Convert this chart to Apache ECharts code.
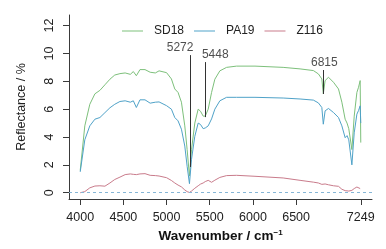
<!DOCTYPE html>
<html>
<head>
<meta charset="utf-8">
<script src="https://cdn.jsdelivr.net/npm/echarts@6/dist/echarts.min.js"></script>
<style>
    html, body { margin: 0; padding: 0; background: #fff; }
    #chart { width: 386px; height: 249px; }
</style>
</head>
<body>
<div id="chart"></div>
<script>
// wavenumber (cm-1) sample points shared by the three spectra
var wavenumbers = [4000, 4053, 4111, 4170, 4228, 4286, 4344, 4400, 4460, 4520,
    4580, 4615, 4650, 4692, 4750, 4810, 4870, 4913, 5000, 5056,
    5095, 5133, 5172, 5211, 5238, 5265, 5289, 5327, 5366, 5393,
    5424, 5448, 5482, 5521, 5559, 5617, 5695, 5811, 6024, 6350,
    6546, 6700, 6758, 6798, 6815, 6836, 6875, 6933, 6991, 7030,
    7068, 7090, 7110, 7146, 7173, 7204, 7223, 7242, 7249];

var sd18 = [1.6, 4.8, 6.35, 7.1, 7.35, 7.75, 8.15, 8.45, 8.55, 8.6,
    8.5, 8.7, 8.4, 8.84, 8.84, 8.65, 8.6, 8.75, 8.62, 8.17,
    7.45, 7.2, 6.5, 4.8, 3.1, 1.2, 3.1, 5.0, 6.0, 5.85,
    5.5, 5.5, 6.0, 7.2, 8.15, 8.75, 9.0, 9.09, 9.09, 9.0,
    8.89, 8.77, 8.53, 8.17, 7.1, 8.05, 8.29, 7.93, 7.45, 6.5,
    5.28, 5.0, 4.6, 3.1, 5.5, 7.2, 7.57, 8.05, 3.6];

var pa19 = [1.5, 3.8, 4.8, 5.28, 5.4, 5.75, 6.1, 6.35, 6.55, 6.6,
    6.5, 6.6, 6.12, 6.67, 6.67, 6.43, 6.5, 6.52, 6.25, 6.0,
    5.4, 5.16, 4.56, 3.35, 1.9, 0.65, 2.4, 4.05, 5.0, 4.9,
    4.6, 4.65, 4.8, 5.3, 6.0, 6.6, 6.85, 6.85, 6.85, 6.8,
    6.73, 6.65, 6.45, 6.12, 4.92, 5.88, 6.05, 5.76, 5.4, 4.8,
    3.95, 4.1, 3.8, 2.0, 4.3, 5.64, 5.9, 6.24, 5.0];

var z116 = [0.0, 0.08, 0.35, 0.48, 0.5, 0.47, 0.7, 0.95, 1.12, 1.3,
    1.35, 1.32, 1.3, 1.35, 1.37, 1.25, 1.23, 1.2, 1.08, 0.88,
    0.7, 0.55, 0.42, 0.2, 0.08, 0.02, 0.12, 0.32, 0.5, 0.62,
    0.7, 0.8, 0.89, 0.75, 0.9, 1.1, 1.23, 1.25, 1.18, 1.06,
    0.89, 0.76, 0.7, 0.6, 0.6, 0.63, 0.57, 0.5, 0.46, 0.25,
    0.15, 0.1, 0.12, 0.17, 0.3, 0.41, 0.34, 0.3, 0.28];

// marked bands: position, top and bottom of the pointer line
var peakWn = [5272, 5448, 6815];
var peakTop = [9.88, 9.38, 8.81];
var peakBottom = [1.85, 5.43, 7.09];

var xTicks = [4000, 4500, 5000, 5500, 6000, 6500, 7249];
var yTicks = [0, 2, 4, 6, 8, 10, 12];

var font = 'Liberation Sans, Arial, sans-serif';
var axisColor = '#3a3a3a';
var peakLabelOffset = [[-10, 0], [10, 0], [1, 0]];

function pairs(ys) {
    return wavenumbers.map(function (w, i) { return [w, ys[i]]; });
}

function lineSeries(name, ys, color) {
    return {
        name: name,
        type: 'line',
        data: pairs(ys),
        showSymbol: false,
        symbol: 'none',
        lineStyle: { width: 1, color: color },
        itemStyle: { color: color },
        silent: true,
        z: 3
    };
}

var myChart = echarts.init(document.getElementById('chart'), null, { renderer: 'canvas' });

var z116Series = lineSeries('Z116', z116, '#c97b8b');
// dashed zero reference
z116Series.markLine = {
    silent: true,
    symbol: 'none',
    label: { show: false },
    data: [{
        yAxis: 0,
        lineStyle: { color: '#86b6d6', width: 1, type: [3, 3], opacity: 1 }
    }]
};

var option = {
    animation: false,
    backgroundColor: '#fff',
    textStyle: { fontFamily: font },
    grid: { left: 69, right: 14, top: 15, bottom: 50 },
    legend: {
        left: 117,
        top: 20,
        icon: 'rect',
        itemWidth: 21,
        itemHeight: 1,
        itemGap: 10,
        data: ['SD18', 'PA19', 'Z116'],
        textStyle: { fontSize: 12, color: '#222', fontFamily: font, padding: [0, 0, 0, 6] }
    },
    xAxis: {
        type: 'value',
        min: 3870,
        max: 7379,
        splitLine: { show: false },
        axisLine: { show: true, onZero: false, lineStyle: { color: axisColor, width: 1 } },
        axisTick: { show: true, length: 6, customValues: xTicks, lineStyle: { color: axisColor } },
        axisLabel: {
            customValues: xTicks, margin: 12, fontSize: 12.5, color: '#222', fontFamily: font,
            formatter: function (v) { return String(v); }
        },
        name: 'Wavenumber / cm{sup|−1}',
        nameLocation: 'middle',
        nameGap: 29,
        nameTextStyle: {
            fontSize: 13.5, fontWeight: 'bold', color: '#111', fontFamily: font,
            rich: { sup: { fontSize: 8, fontWeight: 'bold', verticalAlign: 'top', color: '#111', fontFamily: font } }
        }
    },
    yAxis: {
        type: 'value',
        min: -0.45,
        max: 12.76,
        splitLine: { show: false },
        axisLine: { show: true, onZero: false, lineStyle: { color: axisColor, width: 1 } },
        axisTick: { show: true, length: 6, customValues: yTicks, lineStyle: { color: axisColor } },
        axisLabel: {
            customValues: yTicks, rotate: 90, margin: 13, fontSize: 12.5, color: '#222', fontFamily: font,
            formatter: function (v) { return String(v); }
        },
        name: 'Reflectance / %',
        nameLocation: 'middle',
        nameGap: 41,
        nameTextStyle: { fontSize: 12.5, color: '#222', fontFamily: font }
    },
    series: [
        lineSeries('SD18', sd18, '#7dc07b'),
        lineSeries('PA19', pa19, '#4fa2c8'),
        z116Series,
        {
            name: 'peaks',
            type: 'scatter',
            symbolSize: 0,
            silent: true,
            data: peakWn.map(function (w, i) {
                return {
                    value: [w, peakTop[i]],
                    label: { offset: peakLabelOffset[i] }
                };
            }),
            label: {
                show: true,
                position: 'top',
                distance: 1,
                fontSize: 12,
                color: '#222',
                fontFamily: font,
                formatter: function (p) { return String(p.value[0]); }
            },
            markLine: {
                silent: true,
                symbol: 'none',
                label: { show: false },
                lineStyle: { color: '#333', width: 1, type: 'solid' },
                data: peakWn.map(function (w, i) {
                    return [
                        { coord: [w, peakTop[i]] },
                        { coord: [w, peakBottom[i]] }
                    ];
                })
            },
            z: 4
        }
    ]
};

myChart.setOption(option);
window.addEventListener('resize', myChart.resize);
</script>
</body>
</html>
